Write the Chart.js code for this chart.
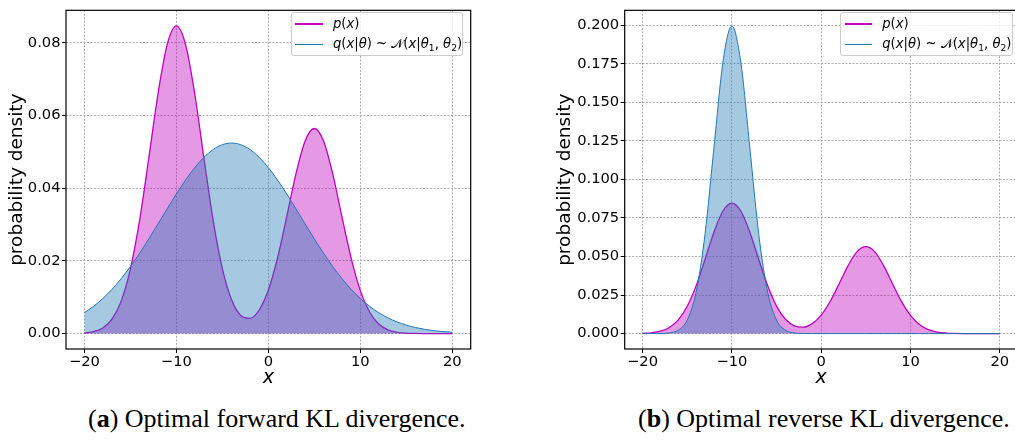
<!DOCTYPE html>
<html>
<head>
<meta charset="utf-8">
<script src="https://cdn.jsdelivr.net/npm/chart.js@4.4.0/dist/chart.umd.min.js"></script>
<style>
  body { margin: 0; width: 1015px; height: 444px; overflow: hidden; background: #fff; position: relative; }
  canvas { position: absolute; top: 0; }
  #fwd { left: 0; }
  #rev { left: 548.3px; }
  .legend { position: absolute; top: 12.3px; width: 172.6px; height: 43.7px; box-sizing: border-box;
            border: 1px solid #cccccc; border-radius: 3px; background: rgba(255, 255, 255, 0.8);
            font-family: "DejaVu Sans"; font-size: 13.2px; color: #000; }
  .row { position: absolute; left: 3.6px; height: 0; }
  .swatch { position: absolute; left: 0; width: 27.4px; }
  .swatch.p { top: -1px; height: 2px; background: #bf00bf; }
  .swatch.q { top: -0.6px; height: 1.3px; background: #1f77b4; }
  .lab { position: absolute; left: 37.6px; top: -9px; line-height: 18px; white-space: nowrap; }
  .lab sub { font-size: 9.2px; vertical-align: -3px; line-height: 0; }
  .cal { font-family: "DejaVu Sans", "DejaVu Serif", serif; font-style: normal; }
  .cap { position: absolute; top: 404px; font-family: "Liberation Serif", "Times New Roman", serif;
         font-size: 26px; line-height: 30px; color: #000; white-space: nowrap; }
</style>
</head>
<body>
<canvas id="fwd" width="473" height="395"></canvas>
<canvas id="rev" width="472" height="395"></canvas>

<div class="legend" style="left:290.7px">
  <div class="row" style="top:10.4px"><span class="swatch p"></span><span class="lab"><i>p</i>(<i>x</i>)</span></div>
  <div class="row" style="top:31px"><span class="swatch q"></span><span class="lab"><i>q</i>(<i>x</i>|<i>θ</i>) ~ <span class="cal">𝒩</span>(<i>x</i>|<i>θ</i><sub>1</sub>, <i>θ</i><sub>2</sub>)</span></div>
</div>
<div class="legend" style="left:840px">
  <div class="row" style="top:10.4px"><span class="swatch p"></span><span class="lab"><i>p</i>(<i>x</i>)</span></div>
  <div class="row" style="top:31px"><span class="swatch q"></span><span class="lab"><i>q</i>(<i>x</i>|<i>θ</i>) ~ <span class="cal">𝒩</span>(<i>x</i>|<i>θ</i><sub>1</sub>, <i>θ</i><sub>2</sub>)</span></div>
</div>

<div class="cap" style="left:88px">(<b>a</b>) Optimal forward KL divergence.</div>
<div class="cap" style="left:638px">(<b>b</b>) Optimal reverse KL divergence.</div>

<script>
// Sample grid and densities
const xGrid = [-20, -19, -18, -17, -16, -15, -14, -13, -12, -11, -10, -9, -8, -7, -6, -5, -4, -3, -2, -1,
               0, 1, 2, 3, 4, 5, 6, 7, 8, 9, 10, 11, 12, 13, 14, 15, 16, 17, 18, 19, 20];

// target p(x), two bumps at -10 and 5
const pDensity = [0.00016, 0.00054, 0.00155, 0.00396, 0.00892, 0.01773, 0.03112, 0.04821, 0.06589, 0.07947,
                  0.0846, 0.07947, 0.06589, 0.04822, 0.03115, 0.01784, 0.00928, 0.00499, 0.00419, 0.00648,
                  0.01198, 0.02079, 0.03215, 0.04392, 0.05298, 0.0564, 0.05298, 0.04392, 0.03214, 0.02075,
                  0.01182, 0.00595, 0.00264, 0.00103, 0.00036, 0.00011, 0.00003, 0.00001, 0, 0, 0];

// q fitted with forward KL (wide, covers both modes)
const qForward = [0.00574, 0.00751, 0.00964, 0.01218, 0.01511, 0.01843, 0.02209, 0.02603, 0.03015, 0.03432,
                  0.03840, 0.04222, 0.04564, 0.04848, 0.05062, 0.05195, 0.0524, 0.05195, 0.05062, 0.04848,
                  0.04564, 0.04222, 0.03840, 0.03432, 0.03015, 0.02603, 0.02209, 0.01843, 0.01511, 0.01218,
                  0.00964, 0.00751, 0.00574, 0.00432, 0.00319, 0.00232, 0.00166, 0.00116, 0.00080, 0.00054, 0.00036];

// q fitted with reverse KL (locks onto the left mode)
const qReverse = [0, 0.00001, 0.00007, 0.00044, 0.00222, 0.00877, 0.02700, 0.06477, 0.12100, 0.17606,
                  0.1995, 0.17606, 0.12100, 0.06477, 0.02700, 0.00877, 0.00222, 0.00044, 0.00007, 0.00001,
                  0, 0, 0, 0, 0, 0, 0, 0, 0, 0, 0, 0, 0, 0, 0, 0, 0, 0, 0, 0, 0];

const xTicks = [-20, -10, 0, 10, 20];
const yTicksForward = [0, 0.02, 0.04, 0.06, 0.08];
const yTicksReverse = [0, 0.025, 0.05, 0.075, 0.1, 0.125, 0.15, 0.175, 0.2];

const P_LINE = '#bf00bf', P_FILL = 'rgba(191, 0, 191, 0.4)';
const Q_LINE = '#1f77b4', Q_FILL = 'rgba(31, 119, 180, 0.4)';
const GRID = 'rgba(165, 165, 165, 0.9)';
const FONT = 'DejaVu Sans';

Chart.defaults.color = '#000';

const points = ys => xGrid.map((x, i) => ({ x: x, y: ys[i] }));
const fmt = (v, digits) => v.toFixed(digits).replace('-', '\u2212');

// black box around the plot area (matplotlib spines)
const frame = {
  id: 'frame',
  afterDatasetsDraw(chart) {
    const { ctx, chartArea: a } = chart;
    ctx.save();
    ctx.strokeStyle = '#000';
    ctx.lineWidth = 1.2;
    ctx.strokeRect(a.left, a.top, a.right - a.left, a.bottom - a.top);
    ctx.restore();
  }
};

function densityChart(id, qValues, yMin, yMax, yTicks, digits, yAxisWidth) {
  return new Chart(document.getElementById(id), {
    type: 'line',
    data: {
      datasets: [
        // q listed first so its fill is painted over p
        { data: points(qValues), borderColor: Q_LINE, backgroundColor: Q_FILL, borderWidth: 1, fill: 'origin' },
        { data: points(pDensity), borderColor: P_LINE, backgroundColor: P_FILL, borderWidth: 1.3, fill: 'origin' }
      ]
    },
    options: {
      responsive: false,
      animation: false,
      devicePixelRatio: 1,
      layout: { padding: { top: 5, right: 2.3, bottom: 0, left: 0 } },
      elements: { point: { radius: 0 }, line: { cubicInterpolationMode: 'monotone' } },
      plugins: { legend: { display: false }, tooltip: { enabled: false } },
      scales: {
        x: {
          type: 'linear', min: -22, max: 22,
          afterBuildTicks: s => { s.ticks = xTicks.map(v => ({ value: v })); },
          afterFit: s => { s.height = 46; },
          grid: { color: GRID, lineWidth: 1, tickColor: '#000', tickLength: 4, tickWidth: 1 },
          border: { display: false, dash: [2, 1.5] },
          ticks: { autoSkip: false, maxRotation: 0, padding: 1.5, font: { family: FONT, size: 14.7, lineHeight: 1 },
                   callback: v => fmt(v, 0) },
          title: { display: true, text: 'x', font: { family: FONT, size: 19, style: 'italic', lineHeight: 1.2 },
                   padding: { top: 0, bottom: 6 } }
        },
        y: {
          type: 'linear', min: yMin, max: yMax,
          afterBuildTicks: s => { s.ticks = yTicks.map(v => ({ value: v })); },
          afterFit: s => { s.width = yAxisWidth; },
          grid: { color: GRID, lineWidth: 1, tickColor: '#000', tickLength: 4, tickWidth: 1 },
          border: { display: false, dash: [2, 1.5] },
          ticks: { autoSkip: false, padding: 1.5, font: { family: FONT, size: 14.7 },
                   callback: v => fmt(v, digits) },
          title: { display: true, text: 'probability density', font: { family: FONT, size: 18.5, lineHeight: 1.2 },
                   padding: { top: 6.5, bottom: 0 } }
        }
      }
    },
    plugins: [frame]
  });
}

densityChart('fwd', qForward, -0.00424, 0.0889, yTicksForward, 2, 66);
densityChart('rev', qReverse, -0.00998, 0.2096, yTicksReverse, 3, 76.7);
</script>
</body>
</html>
